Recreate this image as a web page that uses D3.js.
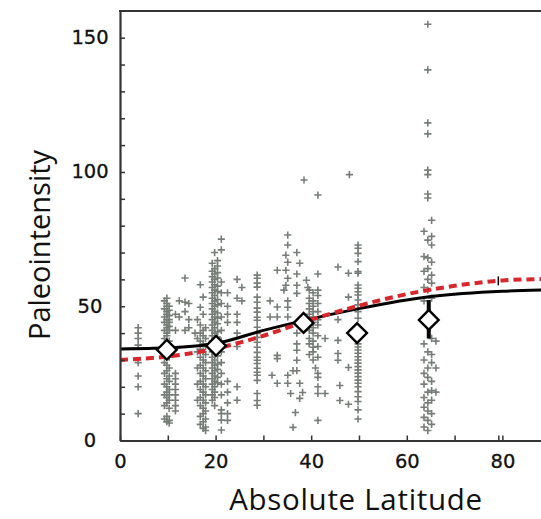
<!DOCTYPE html>
<html>
<head>
<meta charset="utf-8">
<script src="https://cdn.jsdelivr.net/npm/d3@7/dist/d3.min.js"></script>
<style>
  html, body { margin: 0; padding: 0; background: #fff; }
  svg { display: block; }
</style>
</head>
<body>
<svg id="chart" width="541" height="519"></svg>
<script>
// ---------------- DATA ----------------
const xTickValues = [0, 10, 20, 30, 40, 50, 60, 70, 79.15, 80];
const xTickLabels = [0, 20, 40, 60, 80];
const yTickValues = [0, 10, 20, 30, 40, 50, 60, 70, 80, 90, 100, 110, 120, 130, 140, 150];
const yTickLabels = [0, 50, 100, 150];

// individual paleointensity records, grouped by absolute latitude
const plusGroups = [
  {lat: 3.8,  vals: [42, 40, 38, 35.5, 29, 24, 20, 10]},
  {lat: 9.3,  vals: [52, 49, 46, 44, 41, 38, 29, 25, 21, 17, 13, 8]},
  {lat: 9.8,  vals: [53, 51, 50, 48, 47, 45, 43, 42, 40, 39, 36, 33, 28, 26, 23, 20, 18, 16, 14, 9, 7]},
  {lat: 10.3, vals: [50, 48.5, 46.5, 45, 44, 42.5, 41, 37, 31, 27, 24, 22, 19, 17, 15, 12, 7.5, 6.5]},
  {lat: 11.6, vals: [47, 41, 25, 23, 21, 19, 17, 15, 13, 11]},
  {lat: 12.4, vals: [52, 46]},
  {lat: 13.6, vals: [60.5, 51.5, 48, 41]},
  {lat: 14.4, vals: [51, 45, 42]},
  {lat: 15.7, vals: [40]},
  {lat: 16.2, vals: [45, 38, 33, 27, 21, 15]},
  {lat: 16.8, vals: [58, 49.6, 43, 40, 37, 34, 31, 28, 25, 22, 19, 16, 13, 9, 6]},
  {lat: 17.4, vals: [53.4, 47, 41, 39, 36, 33, 30, 27, 24, 21, 18, 15, 12, 10, 7, 4.5]},
  {lat: 17.9, vals: [42, 38, 35, 32, 29, 26, 23, 20, 17, 14, 11, 8, 5, 3.7]},
  {lat: 19.3, vals: [66, 63, 61, 59, 57, 55, 53, 51, 49, 47, 45, 43, 41, 39, 37, 35, 33, 31, 29, 27, 25, 23, 21, 19, 17, 15]},
  {lat: 19.8, vals: [70, 64, 62, 60, 58, 56, 54, 52, 50, 48, 46, 44, 42, 40, 38, 36, 34, 32, 30, 28, 26, 24, 22, 20, 18, 16, 13]},
  {lat: 20.4, vals: [67, 65, 62.5, 60.5, 57.5, 55.5, 52.5, 50.5, 47.5, 45.5, 43.5, 40.5, 38.5, 36.5, 33.5, 31.5, 28.5, 26.5, 23.5, 21.5]},
  {lat: 21.2, vals: [75, 71, 59, 55, 51, 46, 41, 37, 33, 29, 25, 21, 17, 11.4, 10, 7.6, 3.9]},
  {lat: 22.5, vals: [55, 50, 47, 44, 22, 18, 14, 10, 7.5]},
  {lat: 24.5, vals: [60, 53, 47, 44, 40, 35, 20, 15]},
  {lat: 25.5, vals: [57, 52]},
  {lat: 28.7, vals: [61.6, 60.4, 58.6, 57.1, 53.4, 51.5, 49.3, 47.8, 45.9, 44.8, 42.2, 39.9, 38.4, 36.6, 34.7, 32.8, 31, 29.9, 28.7, 26.9, 25.4, 24.3, 22.4, 17.5, 14.9, 13.1]},
  {lat: 31.4, vals: [52, 46]},
  {lat: 31.8, vals: [24.3]},
  {lat: 32.9, vals: [63.4, 49.7, 46, 31.7, 30.5, 21.3]},
  {lat: 34.3, vals: [56]},
  {lat: 34.7, vals: [69, 63.4, 57.8]},
  {lat: 35.1, vals: [76.5, 72.8, 66.4, 60.4, 52, 49.6, 46, 24.3, 21.3]},
  {lat: 35.7, vals: [17.5]},
  {lat: 36.2, vals: [26, 4.9]},
  {lat: 36.7, vals: [10.4]},
  {lat: 37.0, vals: [70, 62, 57.8, 54.8, 40, 36, 33.6, 29.9, 26]},
  {lat: 37.6, vals: [66, 21.3, 15.7]},
  {lat: 38.2, vals: [17.9]},
  {lat: 38.5, vals: [97]},
  {lat: 39.0, vals: [59.7]},
  {lat: 39.3, vals: [57]},
  {lat: 39.6, vals: [56, 53, 51, 49, 47, 45, 41, 38, 36, 32]},
  {lat: 40.4, vals: [55, 52, 50, 48, 46, 44, 42, 40, 37, 34.7, 33, 30]},
  {lat: 40.9, vals: [27]},
  {lat: 41.4, vals: [91.4, 62, 56, 54, 51, 48, 45, 43, 39, 35, 31, 25, 23.5, 20, 17.5, 7.5]},
  {lat: 42.9, vals: [38, 17.5]},
  {lat: 45.6, vals: [64.6, 45, 37.3, 32.4, 29.9]},
  {lat: 46.0, vals: [20.5, 14.9]},
  {lat: 47.8, vals: [62.3, 53.4, 27.2, 13.5]},
  {lat: 48.0, vals: [99]},
  {lat: 49.8, vals: [72.8, 71.6, 69.7, 66.6, 62.9, 62.3, 57.9, 56.7, 55.4, 54.2, 52.3, 50.5, 48.0, 45.5, 42, 36.0, 34.8, 33.7, 32.5, 31.2, 30.0, 28.8, 27.5, 26.3, 25.1, 23.8, 22.5, 21.3, 20.0, 18.2, 16.3, 14.5, 11.4, 8]},
  {lat: 63.6, vals: [77.9, 68.5, 63, 57, 52, 36, 30, 25, 21, 16, 12.4, 8.6, 5]},
  {lat: 64.4, vals: [155, 138, 118.3, 114.2, 100.7, 99, 91.8, 90.3, 74.6, 68, 64, 60, 56, 33, 27, 23.5, 18, 14, 11, 7.5, 3.7]},
  {lat: 65.2, vals: [82, 76, 72.8, 66.4, 61.6, 58.6, 53, 38, 32, 29, 22, 18.6, 15, 10, 6]},
  {lat: 66.1, vals: [37, 27, 18]}
];

// black solid model curve
const blackLat = [0, 10, 20, 30, 40, 50, 65, 80, 88.1];
const blackVal = [34.1, 34.5, 36.1, 41.0, 45.3, 49.1, 53.6, 55.6, 56.0];

// red dashed model curve
const redLat = [0, 10, 20, 30, 40, 50, 60, 70, 80, 88.1];
const redVal = [30.0, 31.3, 34.2, 39.0, 45.0, 50.2, 54.5, 57.6, 59.6, 60.1];

// binned means (diamonds)
const binLat = [9.8, 20.1, 38.4, 49.6, 64.6];
const binVal = [33.8, 35.3, 43.8, 40.0, 44.9];

// error bars
const errorBars = [
  {lat: 64.6, lo: 38.0, hi: 52.3, w: 4},
  {lat: 79.15, lo: 57.8, hi: 61.1, w: 1.5}
];

// ---------------- DRAW ----------------
(function () {
const W = 541, H = 519;
const padLeft = 120, padRight = 541, padTop = 11, padBottom = 440.5;

const x = d3.scaleLinear().domain([0, 88.08]).range([padLeft, padRight]);
const y = d3.scaleLinear().domain([0, 150]).range([padBottom, 37.7]);
const yTopVal = y.invert(padTop);

const svg = d3.select("#chart");
svg.append("rect").attr("width", W).attr("height", H).attr("fill", "#fff");

const plot = svg.append("g");

// plus markers
const pts = plusGroups.flatMap(g => g.vals.map(v => [g.lat, v]));
const plusPath = "M-3.6,0H3.6M0,-3.6V3.6";
plot.append("g").selectAll("path").data(pts).join("path")
  .attr("d", plusPath)
  .attr("transform", d => `translate(${x(d[0])},${y(d[1])})`)
  .attr("stroke", "#767d77")
  .attr("stroke-width", 1.6)
  .attr("fill", "none");

// curves
const line = (lats, vals) => d3.line()
  .x((d, i) => x(lats[i]))
  .y(d => y(d))
  .curve(d3.curveMonotoneX)(vals);

plot.append("path")
  .attr("d", line(blackLat, blackVal))
  .attr("fill", "none")
  .attr("stroke", "#000")
  .attr("stroke-width", 3);

plot.append("path")
  .attr("d", line(redLat, redVal))
  .attr("fill", "none")
  .attr("stroke", "#d8262d")
  .attr("stroke-width", 4)
  .attr("stroke-dasharray", "8,5");

// error bars
plot.append("g").selectAll("line").data(errorBars).join("line")
  .attr("x1", d => x(d.lat)).attr("x2", d => x(d.lat))
  .attr("y1", d => y(d.lo)).attr("y2", d => y(d.hi))
  .attr("stroke", "#000")
  .attr("stroke-width", d => d.w);

// diamonds
const diamond = d3.symbol().type(d3.symbolSquare).size(195);
plot.append("g").selectAll("path").data(binLat).join("path")
  .attr("d", diamond)
  .attr("transform", (d, i) => `translate(${x(d)},${y(binVal[i])}) rotate(45)`)
  .attr("fill", "#fff")
  .attr("stroke", "#000")
  .attr("stroke-width", 2.4);

// axes
const axisColor = "#333";
const tickFont = "'DejaVu Sans', Verdana, sans-serif";

const yScaleFull = d3.scaleLinear().domain([0, yTopVal]).range([padBottom, padTop]);
const yAxis = d3.axisLeft(yScaleFull)
  .tickValues(yTickValues)
  .tickSizeInner(-5)
  .tickSizeOuter(0)
  .tickFormat(d => yTickLabels.includes(d) ? d : "");
const gy = svg.append("g").attr("transform", `translate(${padLeft},0)`).call(yAxis);
gy.select(".domain").attr("stroke", axisColor).attr("stroke-width", 2.2);
gy.selectAll(".tick line").attr("stroke", axisColor).attr("stroke-width", 1.5);
gy.selectAll(".tick text")
  .attr("x", -30).attr("dy", "0.3em").attr("text-anchor", "middle")
  .attr("font-family", tickFont).attr("font-size", 19.5)
  .attr("fill", "#111").attr("stroke", "#111").attr("stroke-width", 0.3);

const xAxis = d3.axisBottom(x)
  .tickValues(xTickValues)
  .tickSizeInner(-5)
  .tickSizeOuter(0)
  .tickFormat(d => xTickLabels.includes(d) ? d : "");
const gx = svg.append("g").attr("transform", `translate(0,${padBottom})`).call(xAxis);
gx.select(".domain").attr("stroke", axisColor).attr("stroke-width", 2.2);
gx.selectAll(".tick line").attr("stroke", axisColor).attr("stroke-width", 1.5);
gx.selectAll(".tick text")
  .attr("y", 14).attr("dy", "0.71em")
  .attr("font-family", tickFont).attr("font-size", 19.5)
  .attr("fill", "#111").attr("stroke", "#111").attr("stroke-width", 0.3);

// top frame line
svg.append("line")
  .attr("x1", padLeft - 1).attr("x2", padRight)
  .attr("y1", padTop).attr("y2", padTop)
  .attr("stroke", axisColor).attr("stroke-width", 2.2);

// axis titles
svg.append("text")
  .attr("x", 356).attr("y", 510)
  .attr("text-anchor", "middle")
  .attr("font-family", "'Open Sans', sans-serif")
  .attr("font-size", 29.5)
  .attr("letter-spacing", 0.7)
  .attr("fill", "#111")
  .text("Absolute Latitude");

svg.append("text")
  .attr("transform", "translate(50,245) rotate(-90)")
  .attr("text-anchor", "middle")
  .attr("font-family", "'Open Sans', sans-serif")
  .attr("font-size", 29)
  .attr("fill", "#111")
  .text("Paleointensity");
})();
</script>
</body>
</html>
